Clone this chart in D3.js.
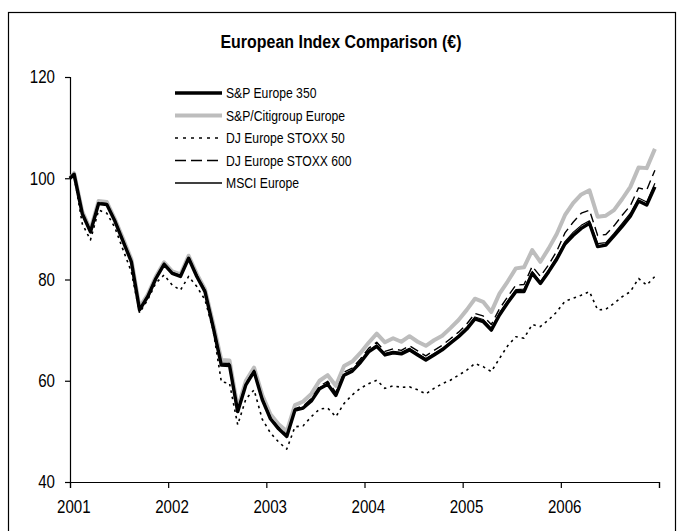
<!DOCTYPE html>
<html>
<head>
<meta charset="utf-8">
<script src="https://cdn.jsdelivr.net/npm/d3@7"></script>
<style>
  html, body { margin: 0; padding: 0; background: #fff; }
  svg { display: block; }
  text { font-family: 'Liberation Sans Narrow', 'Arial Narrow', 'Liberation Sans', Arial, sans-serif; fill: #000; }
</style>
</head>
<body>
<svg id="chart" width="682" height="531"></svg>
<script>
// ---- data (index, start = 100, then monthly Jan 2001 .. Dec 2006) ----
const yearLabels = ["2001", "2002", "2003", "2004", "2005", "2006", ""];
const yTickValues = [40, 60, 80, 100, 120];
const seriesNames = ["S&P Europe 350", "S&P/Citigroup Europe", "DJ Europe STOXX 50", "DJ Europe STOXX 600", "MSCI Europe"];

const sp350 = [100,
  100.8, 93.0, 89.4, 95.0, 94.8, 91.5, 87.5, 83.5, 74.0, 76.6, 80.2, 83.0,
  81.2, 80.6, 84.2, 80.6, 77.6, 70.6, 63.1, 63.0, 53.9, 59.2, 61.8, 56.3,
  52.5, 50.5, 49.0, 54.2, 54.6, 56.0, 58.4, 59.3, 57.1, 61.1, 61.9, 63.6,
  65.7, 66.8, 65.1, 65.5, 65.3, 66.1, 65.1, 64.1, 65.1, 66.1, 67.4, 68.7,
  70.2, 72.2, 71.7, 70.0, 73.0, 75.4, 77.6, 77.6, 81.2, 79.2, 81.5, 84.0,
  87.0, 88.7, 90.1, 91.1, 86.5, 86.8, 88.6, 90.5, 92.5, 95.5, 94.7, 98.3];

const citigroup = [100,
  101.0, 93.4, 89.8, 95.5, 95.3, 91.9, 88.0, 84.0, 74.5, 77.0, 80.6, 83.4,
  81.6, 81.0, 84.7, 81.1, 78.1, 71.3, 64.1, 64.0, 54.6, 60.0, 62.6, 57.2,
  53.4, 51.4, 50.0, 55.2, 55.9, 57.4, 60.0, 61.1, 59.0, 62.9, 63.8, 65.5,
  67.5, 69.3, 67.6, 68.4, 67.7, 68.8, 67.7, 66.9, 68.0, 68.9, 70.4, 72.0,
  74.0, 76.2, 75.6, 73.6, 77.2, 79.6, 82.2, 82.4, 85.8, 83.5, 86.1, 89.0,
  92.7, 95.1, 96.8, 97.6, 92.4, 92.6, 93.7, 95.9, 98.3, 102.1, 102.0, 105.8];

const stoxx50 = [100,
  100.5, 91.0, 87.8, 93.7, 93.1, 90.2, 85.8, 81.5, 73.4, 76.0, 79.3, 80.9,
  78.9, 77.9, 80.6, 78.6, 76.0, 70.0, 59.8, 59.5, 51.3, 56.4, 58.2, 52.4,
  49.7, 47.9, 46.5, 50.9, 51.1, 52.9, 54.4, 54.6, 52.9, 55.5, 57.2, 58.5,
  59.4, 60.1, 58.5, 59.0, 58.7, 58.8, 58.2, 57.4, 58.5, 59.4, 60.1, 61.1,
  62.1, 63.4, 62.8, 61.8, 64.4, 66.9, 68.7, 68.4, 71.1, 70.7, 72.0, 73.6,
  75.7, 76.3, 76.9, 77.6, 74.0, 74.1, 75.3, 76.6, 77.6, 80.2, 78.9, 80.6];

const stoxx600 = [100,
  100.9, 93.2, 89.6, 95.2, 95.0, 91.6, 87.7, 83.7, 74.2, 76.8, 80.4, 83.2,
  81.4, 80.8, 84.4, 80.9, 77.9, 71.0, 63.5, 63.4, 54.2, 59.5, 62.1, 56.6,
  52.8, 50.8, 49.3, 54.5, 55.0, 56.5, 58.9, 59.9, 57.7, 61.7, 62.5, 64.3,
  66.4, 67.6, 65.8, 66.3, 66.0, 66.9, 65.9, 64.9, 66.0, 67.0, 68.3, 69.6,
  71.2, 73.3, 72.8, 71.1, 74.2, 76.6, 78.9, 79.0, 82.6, 80.6, 82.9, 85.6,
  89.2, 91.3, 93.1, 93.7, 88.7, 88.9, 90.6, 92.7, 94.6, 98.1, 97.7, 101.6];

const msci = [100,
  100.9, 93.1, 89.5, 95.1, 94.9, 91.6, 87.6, 83.6, 74.1, 76.7, 80.3, 83.1,
  81.3, 80.7, 84.3, 80.7, 77.7, 70.8, 63.3, 63.2, 54.0, 59.3, 62.0, 56.4,
  52.6, 50.6, 49.1, 54.3, 54.8, 56.2, 58.6, 59.5, 57.3, 61.3, 62.1, 63.9,
  66.0, 67.1, 65.4, 65.8, 65.6, 66.4, 65.4, 64.4, 65.4, 66.4, 67.7, 69.0,
  70.6, 72.6, 72.1, 70.4, 73.4, 75.8, 78.0, 78.1, 81.6, 79.6, 81.9, 84.5,
  87.5, 89.3, 90.7, 91.6, 87.1, 87.3, 89.1, 91.1, 93.1, 96.1, 95.3, 99.0];

// ---- layout ----
const svg = d3.select("#chart");
const plot = { left: 70, right: 659, top: 77, bottom: 482 };
const narrow = 0.84; // horizontal condensing to mimic a narrow typeface

function condense(sel) {
  sel.each(function () {
    const t = d3.select(this);
    const x0 = +(t.attr("x") || 0);
    t.attr("transform", `translate(${x0 * (1 - narrow)},0) scale(${narrow},1)`);
  });
}

// x in months since start of 2001; start point at 0, month m at m + 0.5
const x = d3.scaleLinear().domain([0, 72]).range([plot.left, plot.right]);
const y = d3.scaleLinear().domain([40, 120]).range([plot.bottom, plot.top]);
const xPos = i => (i === 0 ? 0 : i - 0.5);

// outer frame
svg.append("rect")
  .attr("x", 8.5).attr("y", 12.5).attr("width", 667).attr("height", 540)
  .attr("fill", "none").attr("stroke", "#000").attr("stroke-width", 1.2);

// title
svg.append("text")
  .attr("x", 341).attr("y", 48)
  .attr("text-anchor", "middle")
  .style("font-size", "19px").style("font-weight", "bold")
  .text("European Index Comparison (€)")
  .call(condense);

// axes
const yAxis = d3.axisLeft(y).tickValues(yTickValues).tickSize(5).tickPadding(10).tickFormat(d3.format("d"));
const gy = svg.append("g").attr("transform", `translate(${plot.left},0)`).call(yAxis);
gy.select(".domain").attr("stroke", "#000").attr("stroke-width", 1.2);
gy.selectAll(".tick line").attr("stroke", "#000").attr("stroke-width", 1.2);
gy.selectAll(".tick text").style("font-size", "18px").attr("font-family", null).call(condense);

const xAxis = d3.axisBottom(x).tickValues(d3.range(0, 73, 12)).tickSize(6).tickPadding(12)
  .tickFormat((d, i) => yearLabels[i]);
const gx = svg.append("g").attr("transform", `translate(0,${plot.bottom})`).call(xAxis);
gx.select(".domain").attr("stroke", "#000").attr("stroke-width", 1.2);
gx.selectAll(".tick line").attr("stroke", "#000").attr("stroke-width", 1.2);
gx.selectAll(".tick text").style("font-size", "18px").attr("dx", 4).attr("font-family", null).call(condense);

// series styles
const series = [
  { name: seriesNames[1], values: citigroup, color: "#bdbdbd", width: 4, dash: null },
  { name: seriesNames[2], values: stoxx50, color: "#000", width: 1.6, dash: "2.5,4" },
  { name: seriesNames[3], values: stoxx600, color: "#000", width: 1.4, dash: "9,5" },
  { name: seriesNames[0], values: sp350, color: "#000", width: 3.4, dash: null },
  { name: seriesNames[4], values: msci, color: "#000", width: 1.2, dash: null }
];

const line = d3.line().x((d, i) => x(xPos(i))).y(d => y(d));
svg.append("g").selectAll("path").data(series).join("path")
  .attr("d", d => line(d.values))
  .attr("fill", "none")
  .attr("stroke", d => d.color)
  .attr("stroke-width", d => d.width)
  .attr("stroke-dasharray", d => d.dash)
  .attr("stroke-linejoin", "round");

// legend
const legendOrder = [
  { name: seriesNames[0], color: "#000", width: 3.4, dash: null },
  { name: seriesNames[1], color: "#bdbdbd", width: 4, dash: null },
  { name: seriesNames[2], color: "#000", width: 1.6, dash: "3,5" },
  { name: seriesNames[3], color: "#000", width: 1.6, dash: "11,5" },
  { name: seriesNames[4], color: "#000", width: 1.3, dash: null }
];
const lg = svg.append("g").attr("transform", "translate(175,93)");
const items = lg.selectAll("g").data(legendOrder).join("g")
  .attr("transform", (d, i) => `translate(0,${i * 22.5})`);
items.append("line").attr("x1", 0).attr("x2", 47).attr("y1", 0).attr("y2", 0)
  .attr("stroke", d => d.color).attr("stroke-width", d => d.width)
  .attr("stroke-dasharray", d => d.dash);
items.append("text").attr("x", 51).attr("y", 0).attr("dy", "0.35em")
  .style("font-size", "14.5px").text(d => d.name)
  .call(condense);
</script>
</body>
</html>
